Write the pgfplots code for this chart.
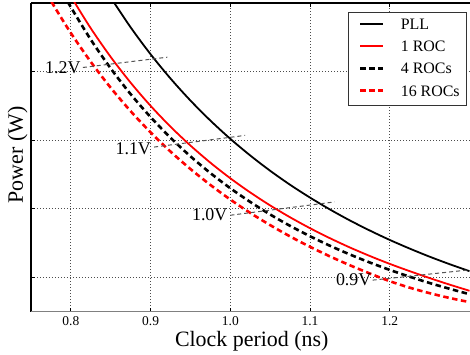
\documentclass[border=0pt]{standalone}
\usepackage{fontspec}
\setmainfont{Liberation Serif}
\usepackage{pgfplots}
\pgfplotsset{compat=1.18}
\definecolor{isogray}{RGB}{85,85,85}
\newcommand{\lf}{\fontsize{16}{18}\selectfont}
\begin{document}
\begin{tikzpicture}
\begin{axis}[
  scale only axis, width=438.5bp, height=308.7bp,
  xmin=0.75, xmax=1.3, ymin=0.5, ymax=5,
  axis x line*=box, axis y line*=left,
  x axis line style={black, line width=1.2bp},
  y axis line style={black, line width=1.2bp},
  xtick={0.8,0.9,1.0,1.1,1.2},
  xticklabels={0.8,0.9,1.0,1.1,1.2},
  ytick={1,2,3,4}, yticklabels={},
  tick align=inside, major tick length=4bp,
  tick style={black, line width=0.8bp},
  xtick pos=both, ytick pos=left,
  grid=major,
  major grid style={black!70, line width=0.8bp, dash pattern=on 1bp off 2bp},
  /pgf/number format/assume math mode=true,
  tick label style={font=\fontsize{13.5}{15}\selectfont},
  xticklabel style={anchor=center, yshift=-9bp},
  label style={font=\fontsize{22}{26}\selectfont},
  xlabel={Clock period (ns)},
  ylabel={Power (W)},
  xlabel style={at={(axis description cs:0.5033,-0.0949)}, anchor=center},
  ylabel style={at={(axis description cs:-0.0308,0.5075)}, anchor=center},
  legend cell align=left,
  legend image code/.code={\path (0bp,0bp); \draw[#1] (6.1bp,1.7bp) -- (29.1bp,1.7bp);},
  legend style={at={(axis description cs:1,1)}, anchor=north east,
    xshift=-2.8bp, yshift=-8.7bp, draw=black!80, line width=0.8bp, fill=white,
    inner xsep=4.6bp, inner ysep=3.2bp, row sep=2.3bp,
    font=\lf,
    cells={anchor=west},
    nodes={inner sep=2bp, text height=12bp, text depth=4bp},
    /tikz/every odd column/.append style={column sep=14.3bp}},
]
% PLL
\addplot[black, line width=1.8bp, smooth] coordinates {
(0.84,5.27) (0.85,5.08) (0.875,4.645) (0.9,4.253) (0.925,3.899) (0.95,3.578)
(0.975,3.286) (1.0,3.02) (1.025,2.777) (1.05,2.554) (1.075,2.350) (1.1,2.163)
(1.125,1.990) (1.15,1.830) (1.175,1.683) (1.2,1.546) (1.225,1.420) (1.25,1.302)
(1.275,1.193) (1.3,1.091)};
\addlegendentry{\lf PLL}
% 1 ROC
\addplot[red, line width=1.8bp, smooth] coordinates {
(0.79,5.30) (0.8,5.098) (0.825,4.631) (0.85,4.213) (0.875,3.838) (0.9,3.501)
(0.925,3.197) (0.95,2.922) (0.975,2.672) (1.0,2.445) (1.025,2.238) (1.05,2.049)
(1.075,1.876) (1.1,1.717) (1.125,1.571) (1.15,1.436) (1.175,1.312) (1.2,1.197)
(1.225,1.091) (1.25,0.990) (1.275,0.895) (1.3,0.805)};
\addlegendentry{\lf 1 ROC}
% 4 ROCs
\addplot[black, line width=2.6bp, dash pattern=on 5.5bp off 3.5bp, smooth] coordinates {
(0.78,5.36) (0.79,5.145) (0.8,4.939) (0.825,4.466) (0.85,4.046) (0.875,3.671)
(0.9,3.337) (0.925,3.036) (0.95,2.765) (0.975,2.521) (1.0,2.30) (1.025,2.100)
(1.05,1.917) (1.075,1.751) (1.1,1.600) (1.125,1.461) (1.15,1.334) (1.175,1.217)
(1.2,1.109) (1.225,1.010) (1.25,0.918) (1.275,0.834) (1.3,0.755)};
\addlegendentry{\lf 4 ROCs}
% 16 ROCs
\addplot[red, line width=2.6bp, dash pattern=on 5.5bp off 3.5bp, smooth] coordinates {
(0.77,5.13) (0.78,4.934) (0.8,4.562) (0.825,4.142) (0.85,3.764) (0.875,3.423)
(0.9,3.114) (0.925,2.834) (0.95,2.580) (0.975,2.348) (1.0,2.135) (1.025,1.940)
(1.05,1.762) (1.075,1.597) (1.1,1.446) (1.125,1.306) (1.15,1.177) (1.175,1.057)
(1.2,0.945) (1.225,0.850) (1.25,0.770) (1.275,0.700) (1.3,0.640)};
\addlegendentry{\lf 16 ROCs}
% iso-voltage lines
\addplot[isogray, line width=1bp, dash pattern=on 4bp off 3bp, forget plot] coordinates {(0.815,4.06) (0.921,4.21)};
\addplot[isogray, line width=1bp, dash pattern=on 4bp off 3bp, forget plot] coordinates {(0.9044,2.90) (1.0186,3.07)};
\addplot[isogray, line width=1bp, dash pattern=on 4bp off 3bp, forget plot] coordinates {(1.0,1.906) (1.1307,2.10)};
\addplot[isogray, line width=1bp, dash pattern=on 4bp off 3bp, forget plot] coordinates {(1.1784,0.96) (1.3,1.11)};
\node[anchor=east, inner sep=0pt, font=\fontsize{18}{20}\selectfont] at (axis cs:0.8123,4.057) {1.2V};
\node[anchor=east, inner sep=0pt, font=\fontsize{18}{20}\selectfont] at (axis cs:0.9007,2.879) {1.1V};
\node[anchor=east, inner sep=0pt, font=\fontsize{18}{20}\selectfont] at (axis cs:0.9966,1.92) {1.0V};
\node[anchor=east, inner sep=0pt, font=\fontsize{18}{20}\selectfont] at (axis cs:1.1772,0.96) {0.9V};
\end{axis}
\draw[black!50, line width=1.3bp] (current axis.south west) -- (current axis.south east);
\pgfresetboundingbox
\path ([xshift=-31bp,yshift=-43.3bp]current axis.south west) rectangle ([xshift=0.5bp,yshift=3bp]current axis.north east);
\end{tikzpicture}
\end{document}
